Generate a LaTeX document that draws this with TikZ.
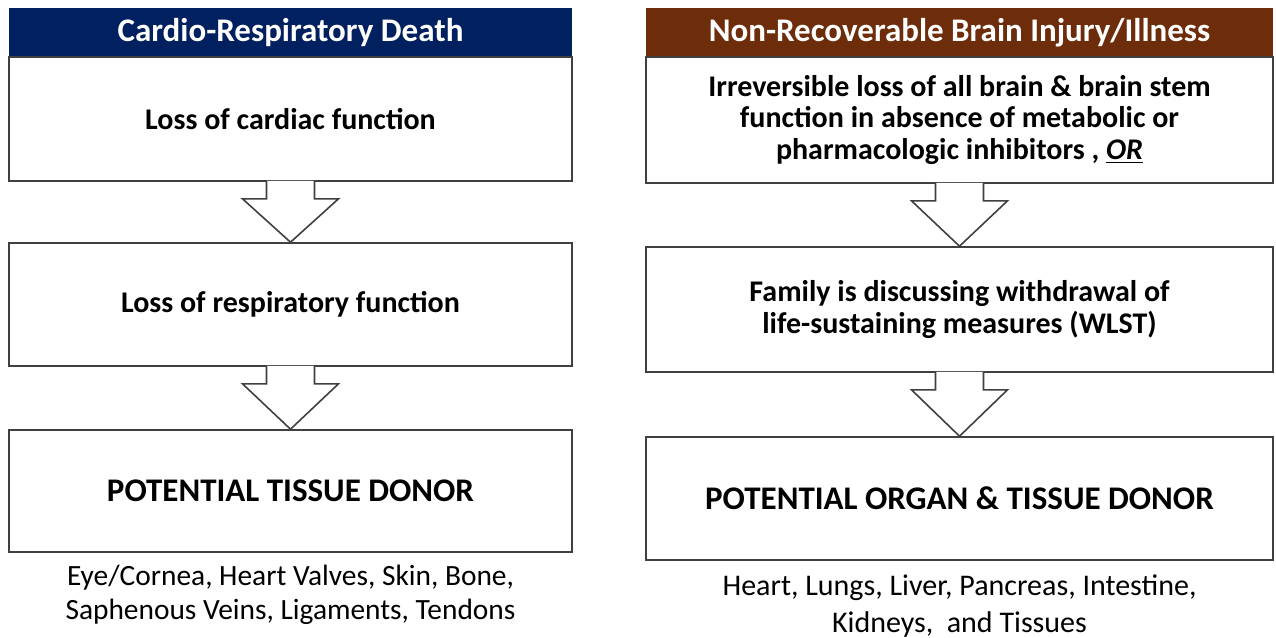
\documentclass[tikz,border=0pt]{standalone}
\usepackage{fontspec}
\setmainfont{Carlito}
\definecolor{hdnavy}{HTML}{002060}
\definecolor{hdbrown}{HTML}{6E2D0A}

\begin{document}
\begin{tikzpicture}[x=0.5pt,y=-0.5pt,
  hdr/.style={fill=#1,text=white,minimum height=24.5pt,inner sep=0pt,
    font=\fontsize{16.5}{18}\selectfont\bfseries},
  stagebox/.style={draw=black!75,line width=0.8pt,fill=white,align=center,
    inner sep=0pt,font=\fontsize{15}{15.75}\selectfont\bfseries},
  donorbox/.style={stagebox,font=\fontsize{16.5}{18}\selectfont\bfseries},
  blk/.style={draw=black!75,line width=0.8pt,fill=white,line join=miter},
  organs/.style={align=center,font=\fontsize{14.7}{17}\selectfont}]
  \useasboundingbox (0,0) rectangle (1276,638);
  % left column
  \node[hdr=hdnavy,minimum width=281.5pt] (hdL) at (290.5,32.5) {Cardio-Respiratory Death};
  \node[stagebox,minimum width=281.5pt,minimum height=62pt] (bxLa) at (290.5,119) {Loss of cardiac function};
  \node[stagebox,minimum width=281.5pt,minimum height=61.5pt] (bxLb) at (290.5,304.5) {Loss of respiratory function};
  \node[donorbox,minimum width=281.5pt,minimum height=61pt] (bxLc) at (290.5,491) {POTENTIAL TISSUE DONOR};
  \node[organs] (orgL) at (290.5,595) {Eye/Cornea, Heart Valves, Skin, Bone,\\Saphenous Veins, Ligaments, Tendons};
  % right column
  \node[hdr=hdbrown,minimum width=313.5pt] (hdR) at (959.5,32.5) {Non-Recoverable Brain Injury/Illness};
  \node[stagebox,minimum width=313.5pt,minimum height=63pt] (bxRa) at (959.5,120)
    {Irreversible loss of all brain \& brain stem\\function in absence of metabolic or\\pharmacologic inhibitors , \underline{\textit{OR}}};
  \node[stagebox,minimum width=313.5pt,minimum height=62.5pt] (bxRb) at (959.5,309.5)
    {Family is discussing withdrawal of\\life-sustaining measures (WLST)};
  \node[donorbox,minimum width=313.5pt,minimum height=61.5pt] (bxRc) at (959.5,498.5) {POTENTIAL ORGAN \& TISSUE DONOR};
  \node[organs,font=\fontsize{15}{18.5}\selectfont] (orgR) at (959.5,606.5) {Heart, Lungs, Liver, Pancreas, Intestine,\\Kidneys,\ \ and Tissues};
  % block arrows
  \foreach \a/\b in {bxLa/bxLb,bxLb/bxLc,bxRa/bxRb,bxRb/bxRc}
    \draw[blk] ([xshift=-12pt,yshift=0.5pt]\a.south) -- ++(0,18) -- ++(-24,0) -- (\b.north)
      -- ([xshift=24pt,yshift=-8.5pt]\a.south) -- ++(-24,0) -- ([xshift=12pt,yshift=0.5pt]\a.south);
\end{tikzpicture}
\end{document}
